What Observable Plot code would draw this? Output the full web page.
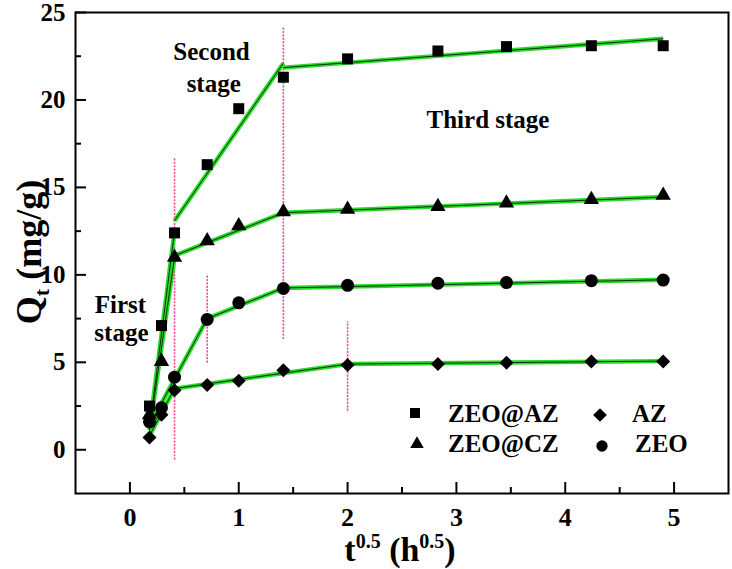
<!DOCTYPE html>
<html><head><meta charset="utf-8">
<script src="https://cdn.jsdelivr.net/npm/d3@7"></script>
<script src="https://cdn.jsdelivr.net/npm/@observablehq/plot@0.6"></script>
<style>
body{margin:0;background:#fff;}
#chart{width:732px;height:569px;}
</style></head><body><div id="chart"></div>
<script>
// ---- data ----
const tValues = [0.18, 0.29, 0.41, 0.71, 1.0, 1.41, 2.0, 2.83, 3.46, 4.24, 4.9];
const qZeoAZ = [2.5, 7.1, 12.4, 16.3, 19.5, 21.3, 22.35, 22.8, 23.05, 23.1, 23.1];
const qZeoCZ = [2.0, 5.05, 11.0, 11.95, 12.8, 13.6, 13.75, 13.9, 14.1, 14.3, 14.55];
const qZEO   = [1.6, 2.4, 4.15, 7.45, 8.4, 9.22, 9.4, 9.52, 9.56, 9.67, 9.7];
const qAZ    = [0.7, 2.0, 3.4, 3.7, 3.95, 4.55, 4.85, 4.9, 4.98, 5.05, 5.05];

const fitSegments = [
  {s:"ZEO@AZ", x1:0.18, y1:1.2,  x2:0.41, y2:12.5},
  {s:"ZEO@AZ", x1:0.41, y1:13.1, x2:1.41, y2:22.1},
  {s:"ZEO@AZ", x1:1.41, y1:21.85,x2:4.9,  y2:23.5},
  {s:"ZEO@CZ", x1:0.18, y1:1.1,  x2:0.41, y2:11.0},
  {s:"ZEO@CZ", x1:0.41, y1:11.1, x2:1.41, y2:13.55},
  {s:"ZEO@CZ", x1:1.41, y1:13.55,x2:4.9,  y2:14.45},
  {s:"ZEO",    x1:0.18, y1:1.4,  x2:0.71, y2:7.5},
  {s:"ZEO",    x1:0.71, y1:7.5,  x2:1.41, y2:9.25},
  {s:"ZEO",    x1:1.41, y1:9.25, x2:4.9,  y2:9.72},
  {s:"AZ",     x1:0.18, y1:0.8,  x2:0.41, y2:3.5},
  {s:"AZ",     x1:0.41, y1:3.5,  x2:2.0,  y2:4.9},
  {s:"AZ",     x1:2.0,  y1:4.9,  x2:4.9,  y2:5.07}
];

const stageBounds = [
  {x:0.41, y1:-0.6, y2:16.7},
  {x:1.41, y1:6.3,  y2:24.15},
  {x:0.71, y1:4.95, y2:10.0},
  {x:2.0,  y1:2.2,  y2:7.3}
];

const annotations = [
  {label:"First",  x:-0.087, y:8.25},
  {label:"stage",  x:-0.078, y:6.65},
  {label:"Second", x:0.75,   y:22.72},
  {label:"stage",  x:0.77,   y:20.94},
  {label:"Third stage", x:3.29, y:18.83}
];

const xMajor = [0, 1, 2, 3, 4, 5];
const xMinor = [0.5, 1.5, 2.5, 3.5, 4.5];
const yMajor = [0, 5, 10, 15, 20, 25];
const yMinor = [2.5, 7.5, 12.5, 17.5, 22.5];

const seriesNames = ["ZEO@AZ", "ZEO@CZ", "AZ", "ZEO"];

// ---- chart ----
const W = 732, H = 569;
const marginLeft = 75, marginRight = 4, marginTop = 12, marginBottom = 76;
const innerW = W - marginLeft - marginRight, innerH = H - marginTop - marginBottom;
const FONT = "'Liberation Serif','Times New Roman',serif";
const GREEN = "#2bdb2b", PINK = "#ff4d94";

const pts = (vals) => tValues.map((t, i) => ({t, q: vals[i]}));

const plot = Plot.plot({
  width: W, height: H, marginLeft, marginRight, marginTop, marginBottom,
  x: {domain: [-0.5, 5.5]},
  y: {domain: [-2.5, 25]},
  style: {fontFamily: FONT, fontWeight: "bold", fontSize: "26px", background: "white", color: "black", overflow: "visible"},
  marks: [
    Plot.ruleX(stageBounds, {x: "x", y1: "y1", y2: "y2", stroke: PINK, strokeWidth: 1.6, strokeDasharray: "2.2,1.2"}),
    Plot.link(fitSegments, {x1: "x1", y1: "y1", x2: "x2", y2: "y2", stroke: GREEN, strokeWidth: 4.4}),
    Plot.link(fitSegments, {x1: "x1", y1: "y1", x2: "x2", y2: "y2", stroke: "#0b300b", strokeWidth: 1}),
    Plot.dot(pts(qZeoAZ), {x: "t", y: "q", symbol: "square", r: 6.2, fill: "black", stroke: "none"}),
    Plot.dot(pts(qZeoCZ), {x: "t", y: "q", symbol: "triangle", r: 5.7, fill: "black", stroke: "none"}),
    Plot.dot(pts(qAZ),    {x: "t", y: "q", symbol: "diamond2", r: 6.3, fill: "black", stroke: "none"}),
    Plot.dot(pts(qZEO),   {x: "t", y: "q", symbol: "circle", r: 6.5, fill: "black", stroke: "none"}),
    Plot.tickX(xMajor, {x: d => d, insetTop: innerH - 11, stroke: "black", strokeWidth: 2}),
    Plot.tickX(xMinor, {x: d => d, insetTop: innerH - 6, stroke: "black", strokeWidth: 2}),
    Plot.tickY(yMajor, {y: d => d, insetRight: innerW - 11, stroke: "black", strokeWidth: 2}),
    Plot.tickY(yMinor, {y: d => d, insetRight: innerW - 6, stroke: "black", strokeWidth: 2}),
    Plot.axisX({ticks: xMajor, tickFormat: d => String(d), tickSize: 0, tickPadding: 14, fontSize: 26, fontWeight: "bold", label: null}),
    Plot.axisY({ticks: yMajor, tickFormat: d => String(d), tickSize: 0, tickPadding: 10, fontSize: 25, fontWeight: "bold", label: null}),
    Plot.frame({stroke: "black", strokeWidth: 2}),
    Plot.text(annotations, {x: "x", y: "y", text: "label", fontSize: 25, fontWeight: "bold", textAnchor: "middle", lineAnchor: "middle", fill: "black"})
  ]
});

const svg = d3.select(plot);

// axis titles
const yt = svg.append("text")
  .attr("transform", "translate(41,252) rotate(-90)")
  .attr("text-anchor", "middle")
  .attr("font-family", FONT).attr("font-weight", "bold").attr("font-size", 36).attr("fill", "black");
yt.append("tspan").text("Q");
yt.append("tspan").attr("font-size", 22).attr("dy", 8).text("t");
yt.append("tspan").attr("dy", -8).text(" (mg/g)");

const xt = svg.append("text")
  .attr("x", 400).attr("y", 561)
  .attr("text-anchor", "middle")
  .attr("font-family", FONT).attr("font-weight", "bold").attr("font-size", 34).attr("fill", "black");
xt.append("tspan").text("t");
xt.append("tspan").attr("font-size", 20).attr("dy", -13).text("0.5");
xt.append("tspan").attr("dy", 13).text(" (h");
xt.append("tspan").attr("font-size", 20).attr("dy", -13).text("0.5");
xt.append("tspan").attr("dy", 13).text(")");

// legend
const legendItems = [
  {name: seriesNames[0], sym: d3.symbolSquare,   size: 100, sx: 415, sy: 413, tx: 448, ty: 421.5},
  {name: seriesNames[1], sym: d3.symbolTriangle, size: 80,  sx: 417, sy: 444, tx: 448, ty: 451.5},
  {name: seriesNames[2], sym: d3.symbolDiamond2, size: 120, sx: 600, sy: 415, tx: 632, ty: 421.5},
  {name: seriesNames[3], sym: d3.symbolCircle,   size: 100, sx: 602, sy: 446, tx: 635, ty: 451.5}
];
const lg = svg.append("g");
legendItems.forEach(it => {
  lg.append("path").attr("d", d3.symbol(it.sym, it.size)()).attr("transform", `translate(${it.sx},${it.sy})`).attr("fill", "black");
  lg.append("text").attr("x", it.tx).attr("y", it.ty).attr("text-anchor", "start")
    .attr("font-family", FONT).attr("font-weight", "bold").attr("font-size", 25).attr("fill", "black")
    .text(it.name);
});

document.getElementById("chart").appendChild(plot);
</script>
</body></html>
